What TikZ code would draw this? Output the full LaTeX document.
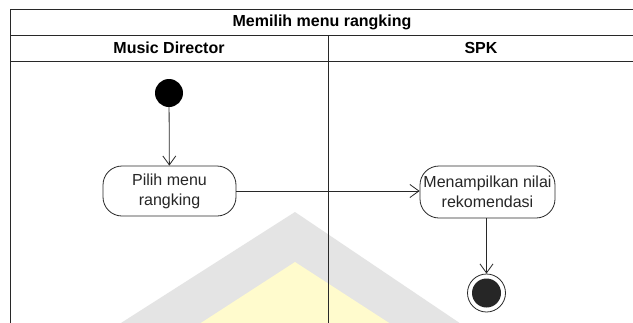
\documentclass[tikz,border=0pt]{standalone}
\usepackage{fontspec}
\setmainfont{Liberation Sans}
\usetikzlibrary{arrows.meta}
\definecolor{wmgray}{RGB}{228,228,228}
\definecolor{wmyellow}{RGB}{255,251,205}
\definecolor{linec}{RGB}{40,40,40}
\tikzset{
  lane/.style={draw=linec, line width=0.9pt},
  hdr/.style={font=\fontsize{16}{18}\selectfont\bfseries, text=black},
  act/.style={draw=linec, line width=0.8pt, rounded corners=19pt, fill=white,
    font=\fontsize{16}{20}\selectfont, align=center, inner sep=0pt, text=black!85},
  flow/.style={draw=linec, line width=0.8pt, -{Straight Barb[length=9pt,width=13pt]}},
}
\begin{document}
\begin{tikzpicture}[x=1pt,y=-1pt]
\useasboundingbox (0,0) rectangle (633,322);
\clip (0,0) rectangle (633,322);
\fill[white] (0,0) rectangle (633,322);
% faint watermark
\fill[wmgray] (295,212) -- (470,330) -- (110,330) -- cycle;
\fill[wmyellow] (295,262) -- (400,330) -- (190,330) -- cycle;
% swimlane frame
\draw[lane] (645,9) -- (10,9) -- (10,330);
\draw[lane] (10,35) -- (645,35);
\draw[lane] (10,61) -- (645,61);
\draw[lane] (328,35) -- (328,330);
\node[hdr] (title) at (322,22) {Memilih menu rangking};
\node[hdr] (lane1) at (169,48) {Music Director};
\node[hdr] (lane2) at (481,48) {SPK};
% nodes
\node[circle, fill=black, minimum size=28pt, inner sep=0pt] (start) at (169,93) {};
\node[act, minimum width=133pt, minimum height=50pt] (a1) at (169.5,191) {Pilih menu\\rangking};
\node[act, minimum width=135pt, minimum height=52pt] (a2) at (487.5,192) {Menampilkan nilai\\rekomendasi};
\node[circle, draw=linec, line width=0.8pt, fill=white, minimum size=38pt, inner sep=0pt] (end) at (486.5,293) {};
\node[circle, fill=black!85, minimum size=29pt, inner sep=0pt] (endin) at (end.center) {};
% flows
\draw[flow] (start) -- (a1);
\draw[flow] (a1.east) -- (a1.east -| a2.west);
\draw[flow] (a2.south -| end.north) -- (end.north);
\end{tikzpicture}
\end{document}
